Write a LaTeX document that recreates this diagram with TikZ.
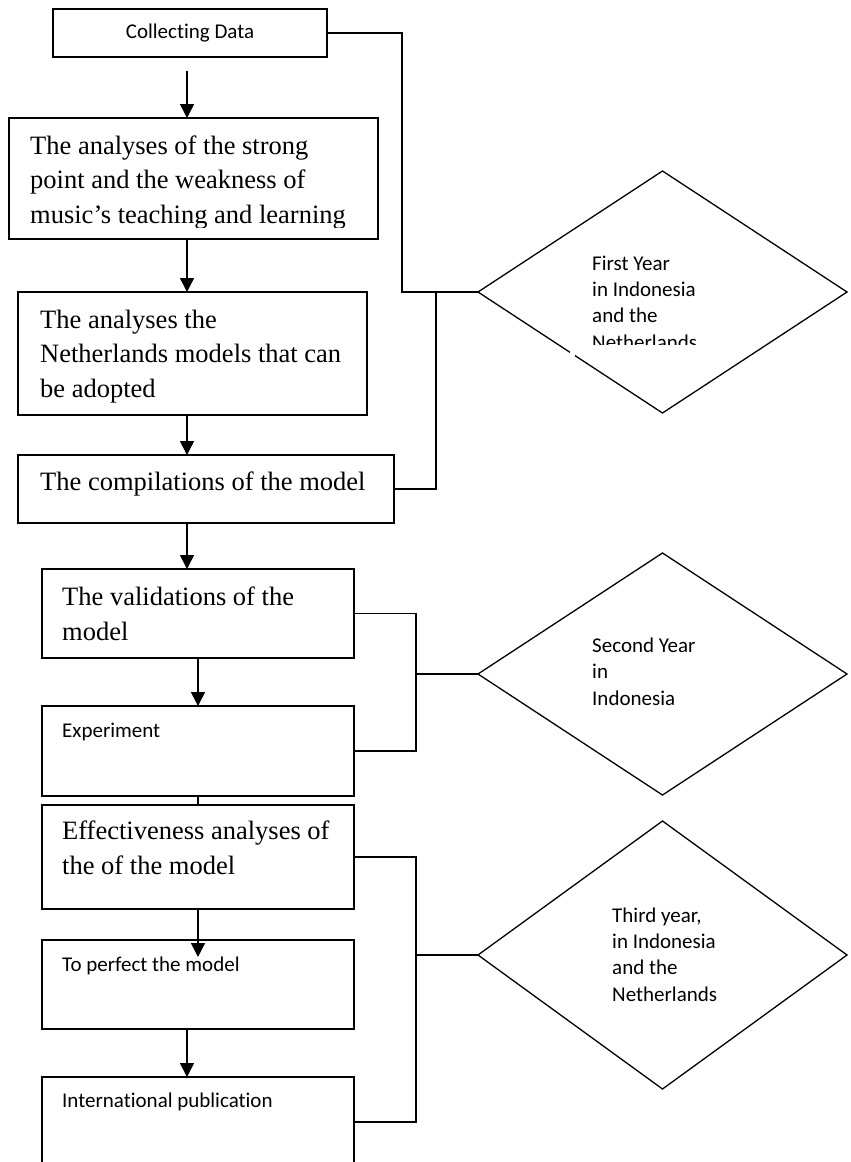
\documentclass[tikz,border=0pt]{standalone}
\usepackage{fontspec}
\setmainfont{Liberation Serif}
\newfontfamily\calfont[Ligatures=NoCommon]{Carlito}
\usetikzlibrary{arrows.meta,shapes.geometric,calc}
\begin{document}
\begin{tikzpicture}[x=1pt,y=-1pt,
 box/.style={draw,line width=1.7pt,rectangle,inner sep=0pt,outer sep=0pt,anchor=north west},
 dia/.style={draw,line width=1.3pt,diamond,inner sep=0pt,outer sep=0pt,minimum width=369pt},
 conn/.style={line width=1.3pt},
 arr/.style={line width=1.6pt,-{Triangle[width=14pt,length=14pt]}},
 serif/.style={anchor=base west,align=left,inner sep=0pt,font=\fontsize{26.5}{34.3}\selectfont},
 sans/.style={anchor=base west,align=left,inner sep=0pt,font=\calfont\fontsize{21}{26.3}\selectfont}]
\useasboundingbox (0,0) rectangle (851,1162);
% boxes
\node[box,minimum width=274pt,minimum height=48pt] (b1) at (53,9) {};
\node[box,minimum width=369pt,minimum height=121pt] (b2) at (9,118) {};
\node[box,minimum width=349pt,minimum height=123pt] (b3) at (18,292) {};
\node[box,minimum width=376pt,minimum height=68pt] (b4) at (18,455) {};
\node[box,minimum width=312pt,minimum height=89pt] (b5) at (42,569) {};
\node[box,minimum width=312pt,minimum height=90pt] (b6) at (42,706) {};
\node[box,minimum width=312pt,minimum height=104pt] (b7) at (42,805) {};
\node[box,minimum width=312pt,minimum height=89pt] (b8) at (42,940) {};
\node[box,minimum width=312pt,minimum height=90pt] (b9) at (42,1077) {};
% diamonds
\node[dia,minimum height=242pt] (d1) at (662.5,292) {};
\node[dia,minimum height=242pt] (d2) at (662.5,674) {};
\node[dia,minimum height=268pt] (d3) at (662.5,955) {};
% texts (anchor base = baseline of the last line)
\node[sans,anchor=center] (t1) at (b1.center) {Collecting Data};
\begin{scope}
\clip (9,118) rectangle (378,227);
\node[serif] (t2) at (30,223) {The analyses of the strong\\point and the weakness of\\music’s teaching and learning};
\end{scope}
\node[serif] (t3) at (40,397) {The analyses the\\Netherlands models that can\\be adopted};
\node[serif] (t4) at (40,490) {The compilations of the model};
\node[serif] (t5) at (62,640) {The validations of the\\model};
\node[sans] (t6) at (62,737) {Experiment};
\node[serif] (t7) at (62,874) {Effectiveness analyses of\\the of the model};
\node[sans] (t8) at (62,971) {To perfect the model};
\node[sans] (t9) at (62,1107) {International publication};
\begin{scope}
\clip (560,240) rectangle (760,344);
\node[sans] (u1) at (592,349) {First Year\\in Indonesia\\and the\\Netherlands};
\end{scope}
\fill[white] (569.5,343) rectangle (574.5,355.5);
\node[sans] (u2) at (592,705) {Second Year\\in\\Indonesia};
\node[sans] (u3) at (612,1001) {Third year,\\in Indonesia\\and the\\Netherlands};
% arrows
\coordinate (xa) at (187,0);
\coordinate (xb) at (198,0);
\draw[arr] ($(b1.south -| xa)+(0,14)$) -- (b2.north -| xa);
\draw[arr] (b2.south -| xa) -- (b3.north -| xa);
\draw[arr] (b3.south -| xa) -- (b4.north -| xa);
\draw[arr] (b4.south -| xa) -- (b5.north -| xa);
\draw[arr] (b5.south -| xb) -- (b6.north -| xb);
\draw[line width=1.6pt] (b6.south -| xb) -- (b7.north -| xb);
\draw[arr] (b7.south -| xb) -- ($(b8.north -| xb)+(0,17)$);
\draw[arr] (b8.south -| xa) -- (b9.north -| xa);
% side connectors
\coordinate (v1) at (402,0);
\coordinate (w1) at (436,0);
\coordinate (v2) at (416,0);
\draw[conn] (b1.east) -| (v1 |- d1.west) -- (d1.west);
\draw[conn] (b4.east) -| (w1 |- d1.west);
\draw[conn] (b5.east) -| (v2 |- b6.east) -- (b6.east);
\draw[conn] (v2 |- d2.west) -- (d2.west);
\draw[conn] (b7.east) -| (v2 |- b9.east) -- (b9.east);
\draw[conn] (v2 |- d3.west) -- (d3.west);
\end{tikzpicture}
\end{document}
